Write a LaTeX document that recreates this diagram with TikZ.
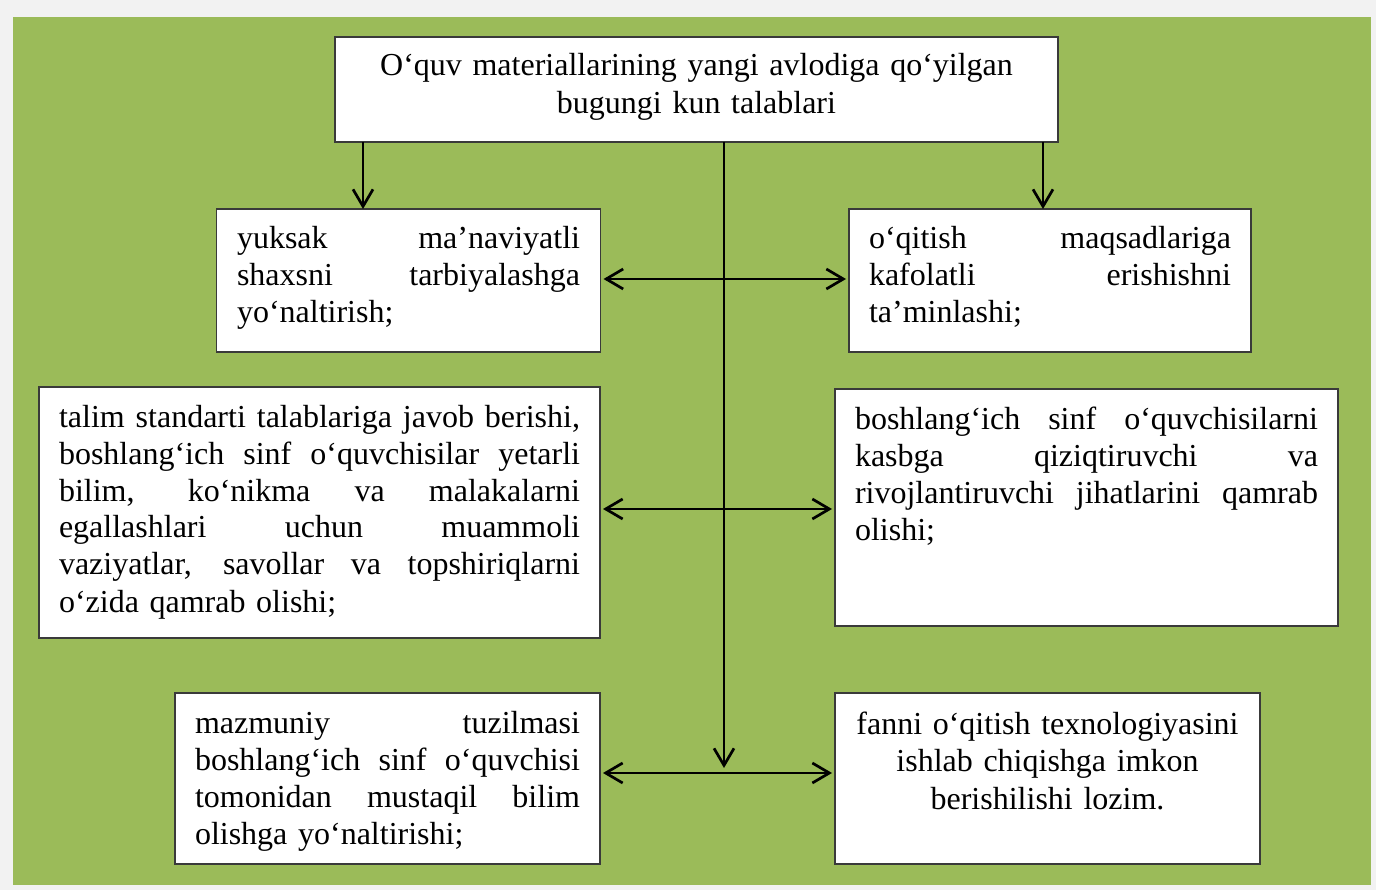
\documentclass[tikz,border=0pt]{standalone}
\usepackage{fontspec}
\setmainfont{Liberation Serif}
\usetikzlibrary{arrows.meta}
\definecolor{bggray}{HTML}{F2F2F2}
\definecolor{olive}{HTML}{9BBB59}
\definecolor{boxline}{HTML}{3A3A3A}
\newcommand\jline[1]{\hbox to \hsize{\spaceskip=.25em plus 1fil minus .06em\relax\xspaceskip=\spaceskip #1}\par}
\begin{document}
\begin{tikzpicture}[x=1pt,y=-1pt,
  box/.style={draw=boxline,line width=1.6pt,fill=white,inner sep=0pt,outer sep=0pt},
  txt/.style={inner sep=0pt,outer sep=0pt,anchor=base west,font=\fontsize{32}{37}\selectfont},
  ctxt/.style={inner sep=0pt,outer sep=0pt,anchor=base,align=center,font=\fontsize{32}{37.5}\selectfont},
  arr/.style={line width=2.7pt,-{Straight Barb[length=17pt,width=20pt,line width=2.7pt]}},
  darr/.style={line width=2.7pt,{Straight Barb[length=17pt,width=20pt,line width=2.7pt]}-{Straight Barb[length=17pt,width=20pt,line width=2.7pt]}}]
\useasboundingbox (0,0) rectangle (1376,890);
\fill[bggray] (0,0) rectangle (1376,890);
\fill[olive] (12.7,16.7) rectangle (1371,885);
% boxes
\node[box,minimum width=723pt,minimum height=105pt] (top) at (696.5,89.5) {};
\node[box,minimum width=384pt,minimum height=143pt] (l1) at (408.5,280.5) {};
\node[box,minimum width=402pt,minimum height=143pt] (r1) at (1050,280.5) {};
\node[box,minimum width=561pt,minimum height=251pt] (l2) at (319.5,512.5) {};
\node[box,minimum width=503pt,minimum height=237pt] (r2) at (1086.5,507.5) {};
\node[box,minimum width=425pt,minimum height=171pt] (l3) at (387.5,778.5) {};
\node[box,minimum width=425pt,minimum height=171pt] (r3) at (1047.5,778.5) {};
% texts
\node[ctxt,text width=700pt] (ttop) at (696.5,76) {O‘quv materiallarining yangi avlodiga qo‘yilgan\\bugungi kun talablari};
\node[txt,text width=343pt] (tl1) at (237,249) {\jline{yuksak ma’naviyatli}\jline{shaxsni tarbiyalashga}yo‘naltirish;};
\node[txt,text width=362pt] (tr1) at (869,249) {\jline{o‘qitish maqsadlariga}\jline{kafolatli erishishni}ta’minlashi;};
\node[txt,text width=521pt] (tl2) at (59,427) {\jline{talim standarti talablariga javob berishi,}\jline{boshlang‘ich sinf o‘quvchisilar yetarli}\jline{bilim, ko‘nikma va malakalarni}\jline{egallashlari uchun muammoli}\jline{vaziyatlar, savollar va topshiriqlarni}o‘zida qamrab olishi;};
\node[txt,text width=463pt] (tr2) at (855,429) {\jline{boshlang‘ich sinf o‘quvchisilarni}\jline{kasbga qiziqtiruvchi va}\jline{rivojlantiruvchi jihatlarini qamrab}olishi;};
\node[txt,text width=385pt] (tl3) at (195,733) {\jline{mazmuniy tuzilmasi}\jline{boshlang‘ich sinf o‘quvchisi}\jline{tomonidan mustaqil bilim}olishga yo‘naltirishi;};
\node[ctxt,text width=400pt] (tr3) at (1047.5,734) {fanni o‘qitish texnologiyasini\\ishlab chiqishga imkon\\berishilishi lozim.};
% connectors
\coordinate (vend) at (724,768);
\draw[arr] (top.south -| 363,0) -- (l1.north -| 363,0);
\draw[arr] (top.south -| 1043,0) -- (r1.north -| 1043,0);
\draw[arr] (top.south -| vend) -- (vend);
\draw[darr,shorten <=3pt,shorten >=3pt] (l1.east |- 0,279) -- (r1.west |- 0,279);
\draw[darr,shorten <=3pt,shorten >=3pt] (l2.east |- 0,509) -- (r2.west |- 0,509);
\draw[darr,shorten <=3pt,shorten >=3pt] (l3.east |- 0,773) -- (r3.west |- 0,773);
\end{tikzpicture}
\end{document}
